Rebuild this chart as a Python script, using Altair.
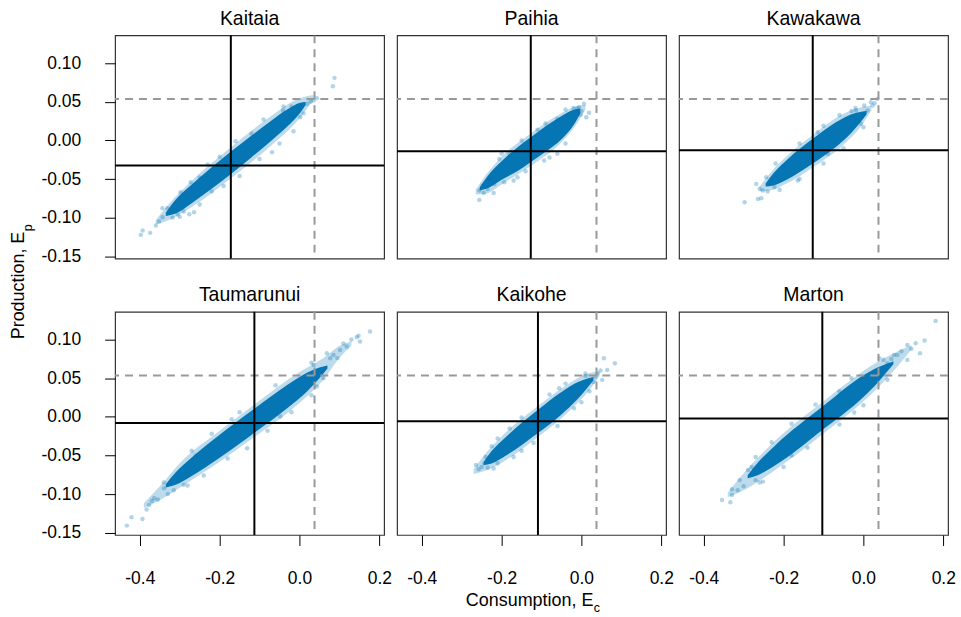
import altair as alt
import pandas as pd

# ---------------- data ----------------
PANELS = ["Kaitaia", "Paihia", "Kawakawa", "Taumarunui", "Kaikohe", "Marton"]
MEAN_X = [-0.172, -0.127, -0.127, -0.113, -0.109, -0.103]
MEAN_Y = [-0.0325, -0.014, -0.0127, -0.0079, -0.0057, -0.0023]
REF_X = 0.0377
REF_Y = 0.0535
X_TICKS = [-0.4, -0.2, 0.0, 0.2]
Y_TICKS = [-0.15, -0.10, -0.05, 0.0, 0.05, 0.10]
X_DOMAIN = [-0.462, 0.212]
Y_DOMAIN = [-0.153, 0.136]

# dense core of each point cloud: (x, y_low, y_high)
KAITAIA_CORE = [(-0.335, -0.0978, -0.0938), (-0.31, -0.0946, -0.0766), (-0.27, -0.0812, -0.0572),
                (-0.22, -0.0627, -0.0347), (-0.17, -0.0427, -0.0137), (-0.12, -0.0217, 0.0063),
                (-0.07, -0.0002, 0.0258), (-0.03, 0.0182, 0.0402), (0.0, 0.0345, 0.0485), (0.015, 0.0456, 0.0496)]
PAIHIA_CORE = [(-0.255, -0.065, -0.061), (-0.235, -0.062, -0.046), (-0.2, -0.051, -0.027),
               (-0.16, -0.0397, -0.0087), (-0.127, -0.028, 0.004), (-0.09, -0.0148, 0.0182),
               (-0.05, 0.0015, 0.0315), (-0.02, 0.0196, 0.0396), (-0.003, 0.035, 0.041)]
KAWAKAWA_CORE = [(-0.245, -0.0597, -0.0557), (-0.225, -0.0583, -0.0423), (-0.19, -0.0503, -0.0243),
                 (-0.127, -0.030, 0.002), (-0.07, -0.0089, 0.0231), (-0.03, 0.0099, 0.0339),
                 (-0.005, 0.0251, 0.0371), (0.008, 0.034, 0.038)]
TAUMARUNUI_CORE = [(-0.335, -0.0914, -0.0874), (-0.31, -0.0879, -0.0719), (-0.27, -0.0767, -0.0527),
                   (-0.2, -0.0531, -0.0231), (-0.113, -0.0205, 0.0105), (-0.03, 0.0115, 0.0415),
                   (0.02, 0.0335, 0.0575), (0.05, 0.0499, 0.0639), (0.07, 0.0625, 0.0665)]
KAIKOHE_CORE = [(-0.245, -0.0624, -0.0584), (-0.225, -0.0604, -0.0444), (-0.19, -0.0504, -0.0264),
                (-0.109, -0.021, 0.009), (-0.05, 0.0031, 0.0321), (-0.01, 0.0226, 0.0446),
                (0.015, 0.0376, 0.0496), (0.03, 0.0476, 0.0516)]
MARTON_CORE = [(-0.29, -0.0797, -0.0757), (-0.265, -0.0756, -0.0596), (-0.22, -0.0624, -0.0364),
               (-0.103, -0.017, 0.013), (0.0, 0.0257, 0.0537), (0.035, 0.0439, 0.0639),
               (0.06, 0.059, 0.069), (0.075, 0.0681, 0.0721)]

# lighter halo of scattered points around each core: (x, y_low, y_high)
KAITAIA_HALO = [(-0.36, -0.109, -0.103), (-0.33, -0.1038, -0.0838), (-0.27, -0.0862, -0.0522),
                (-0.17, -0.0482, -0.0082), (-0.07, -0.0062, 0.0318), (0.0, 0.0285, 0.0545), (0.035, 0.0528, 0.0588)]
PAIHIA_HALO = [(-0.265, -0.070, -0.064), (-0.24, -0.069, -0.045), (-0.2, -0.057, -0.021),
               (-0.127, -0.033, 0.009), (-0.05, -0.0025, 0.0355), (-0.01, 0.023, 0.045), (0.01, 0.040, 0.046)]
KAWAKAWA_HALO = [(-0.26, -0.066, -0.060), (-0.235, -0.065, -0.043), (-0.19, -0.0553, -0.0193),
                 (-0.127, -0.035, 0.007), (-0.05, -0.0055, 0.0345), (-0.005, 0.0191, 0.0431), (0.02, 0.039, 0.045)]
TAUMARUNUI_HALO = [(-0.39, -0.118, -0.112), (-0.35, -0.108, -0.090), (-0.3, -0.092, -0.060),
                   (-0.2, -0.0581, -0.0181), (-0.113, -0.026, 0.016), (0.0, 0.018, 0.058),
                   (0.06, 0.048, 0.076), (0.1, 0.076, 0.092), (0.13, 0.092, 0.098)]
KAIKOHE_HALO = [(-0.27, -0.074, -0.068), (-0.245, -0.0704, -0.0504), (-0.2, -0.0594, -0.0254),
                (-0.109, -0.026, 0.014), (-0.03, 0.0076, 0.0436), (0.02, 0.0346, 0.0566), (0.045, 0.053, 0.059)]
MARTON_HALO = [(-0.34, -0.104, -0.098), (-0.3, -0.095, -0.073), (-0.22, -0.0684, -0.0304),
               (-0.103, -0.023, 0.019), (0.035, 0.0369, 0.0709), (0.09, 0.068, 0.086), (0.12, 0.087, 0.093)]

# sparse outlying points: (x, y)
KAITAIA_PTS = [(-0.3975, -0.1223), (-0.3742, -0.1197), (-0.393, -0.1167), (-0.360, -0.1102), (-0.352, -0.1050),
               (-0.343, -0.0994), (-0.3434, -0.0878), (-0.331, -0.0878), (-0.318, -0.1000), (-0.305, -0.0960),
               (-0.290, -0.0920), (-0.276, -0.0955), (-0.264, -0.0930), (-0.298, -0.0671), (-0.2727, -0.0541),
               (-0.250, -0.0480), (-0.220, -0.0660), (-0.200, -0.0210), (-0.150, -0.0460), (-0.120, 0.0090),
               (-0.0688, -0.0153), (-0.0413, 0.0387), (-0.020, 0.0440), (0.002, 0.0452), (0.0186, 0.0474),
               (0.0353, 0.0517), (0.0436, 0.0547), (0.028, 0.0500), (0.002, 0.0300), (0.010, 0.0350),
               (0.0835, 0.0702), (0.0877, 0.0810),
               (-0.300, -0.0990), (-0.250, -0.0830), (-0.230, -0.0310), (-0.190, -0.0590), (-0.160, -0.0010),
               (-0.100, -0.0240), (-0.090, 0.0270), (-0.050, -0.0040), (-0.040, 0.0440), (-0.015, 0.0120)]
PAIHIA_PTS = [(-0.2559, -0.0770), (-0.2559, -0.0649), (-0.2476, -0.0584), (-0.2350, -0.0628), (-0.2184, -0.0563),
              (-0.2450, -0.0680), (-0.2300, -0.0500), (-0.2060, -0.0239), (-0.1935, -0.0541), (-0.1602, -0.0476),
              (-0.1800, -0.0180), (-0.1100, 0.0140), (-0.0936, -0.0260), (-0.0603, -0.0174), (-0.0603, 0.0279),
              (-0.0060, 0.0430), (-0.0104, 0.0409), (0.0063, 0.0474), (0.0188, 0.0357), (-0.0020, 0.0331),
              (-0.0200, 0.0420), (0.0000, 0.0380),
              (-0.220, -0.0680), (-0.170, -0.0520), (-0.140, -0.0400), (-0.080, -0.0220), (-0.040, -0.0040),
              (-0.200, -0.0170), (-0.150, 0.0000), (-0.090, 0.0220), (-0.040, 0.0400), (0.012, 0.0300)]
KAWAKAWA_PTS = [(-0.2977, -0.0800), (-0.2685, -0.0563), (-0.2602, -0.0627), (-0.2519, -0.0649), (-0.2560, -0.0749),
                (-0.2644, -0.0757), (-0.2436, -0.0476), (-0.2228, -0.0606), (-0.2400, -0.0660), (-0.1645, -0.0520),
                (-0.2000, -0.0330), (-0.1146, 0.0107), (0.0352, 0.0538), (0.0228, 0.0452), (0.0103, 0.0387),
                (0.0186, 0.0495), (0.0020, 0.0452), (-0.0189, 0.0387), (-0.0064, 0.0215), (-0.0300, 0.0380),
                (-0.0890, -0.0174), (0.0280, 0.0480),
                (-0.210, -0.0640), (-0.160, -0.0500), (-0.100, -0.0300), (-0.050, -0.0100), (0.000, 0.0170),
                (-0.220, -0.0300), (-0.160, -0.0040), (-0.100, 0.0190), (-0.060, 0.0330), (-0.020, 0.0420)]
TAUMARUNUI_PTS = [(-0.4325, -0.1409), (-0.4208, -0.1301), (-0.3934, -0.1323), (-0.3830, -0.1200), (-0.3767, -0.1141),
                  (-0.3700, -0.1090), (-0.3642, -0.1055), (-0.3550, -0.1070), (-0.3393, -0.0926), (-0.3300, -0.1000),
                  (-0.3150, -0.0950), (-0.3400, -0.0850), (-0.2900, -0.0880), (-0.2600, -0.0500), (-0.1312, -0.0407),
                  (-0.0480, 0.0003), (-0.1700, -0.0030), (0.0353, 0.0672), (0.0436, 0.0392), (0.0686, 0.0824),
                  (0.0769, 0.0759), (0.0852, 0.0802), (0.1018, 0.0866), (0.1185, 0.0910), (0.1100, 0.0950),
                  (0.1300, 0.1000), (0.1435, 0.1031), (0.1518, 0.0974), (0.1480, 0.1050), (0.1768, 0.1104),
                  (0.0600, 0.0500), (0.0950, 0.0760),
                  (-0.280, -0.0890), (-0.240, -0.0760), (-0.180, -0.0540), (-0.080, -0.0180), (-0.020, 0.0060),
                  (0.030, 0.0280), (-0.270, -0.0440), (-0.220, -0.0220), (-0.150, 0.0060), (-0.060, 0.0410),
                  (0.030, 0.0700)]
KAIKOHE_PTS = [(-0.2642, -0.0623), (-0.2576, -0.0679), (-0.2434, -0.0602), (-0.2500, -0.0650), (-0.2350, -0.0660),
               (-0.2400, -0.0520), (-0.2250, -0.0380), (-0.2100, -0.0600), (-0.1500, -0.0440), (-0.1800, -0.0150),
               (-0.0560, 0.0370), (-0.0270, 0.0370), (-0.0187, 0.0111), (0.0300, 0.0450), (0.0350, 0.0520),
               (0.0400, 0.0560), (0.0479, 0.0599), (0.0520, 0.0478), (0.0645, 0.0607), (0.0562, 0.0759),
               (0.0837, 0.0694), (0.0200, 0.0330), (0.0100, 0.0530),
               (-0.220, -0.0670), (-0.170, -0.0520), (-0.120, -0.0340), (-0.060, -0.0120), (0.000, 0.0190),
               (-0.210, -0.0280), (-0.150, -0.0010), (-0.080, 0.0290), (-0.040, 0.0430), (0.010, 0.0560)]
MARTON_PTS = [(-0.3543, -0.1077), (-0.3335, -0.1107), (-0.3293, -0.1012), (-0.3293, -0.0938), (-0.3101, -0.0817),
              (-0.2893, -0.0688), (-0.2519, -0.0839), (-0.3150, -0.0950), (-0.3000, -0.0900), (-0.2700, -0.0820),
              (-0.2800, -0.0650), (-0.2300, -0.0330), (-0.1800, -0.0500), (-0.0230, 0.0055), (-0.0600, 0.0330),
              (0.0602, 0.0694), (0.0700, 0.0750), (0.0768, 0.0802), (0.0850, 0.0800), (0.0950, 0.0850),
              (0.1101, 0.0737), (0.1101, 0.0931), (0.1200, 0.0880), (0.1309, 0.0953), (0.1418, 0.0823),
              (0.1534, 0.0987), (0.1809, 0.1242), (0.0500, 0.0740),
              (-0.260, -0.0850), (-0.200, -0.0650), (-0.140, -0.0400), (-0.060, -0.0100), (0.000, 0.0150),
              (0.060, 0.0480), (-0.270, -0.0520), (-0.180, -0.0090), (-0.120, 0.0160), (-0.030, 0.0500),
              (0.040, 0.0760)]

CORES = [KAITAIA_CORE, PAIHIA_CORE, KAWAKAWA_CORE, TAUMARUNUI_CORE, KAIKOHE_CORE, MARTON_CORE]
HALOS = [KAITAIA_HALO, PAIHIA_HALO, KAWAKAWA_HALO, TAUMARUNUI_HALO, KAIKOHE_HALO, MARTON_HALO]
POINTS = [KAITAIA_PTS, PAIHIA_PTS, KAWAKAWA_PTS, TAUMARUNUI_PTS, KAIKOHE_PTS, MARTON_PTS]

Y_TITLE = "Production, E"
Y_SUB = "p"
X_TITLE = "Consumption, E"
X_SUB = "c"

# ---------------- styling ----------------
BLUE = "#0072B2"
FONT = "Liberation Sans"
W, H = 270, 224
TICK_FS = 17.5
TITLE_FS = 19.5
LAB_FS = 18


def label(text, x, y, size, angle=None, align="center"):
    kw = dict(align=align, baseline="alphabetic", fontSize=size, font=FONT, color="black")
    if angle is not None:
        kw["angle"] = angle
    return alt.Chart(pd.DataFrame({"t": [text]})).mark_text(**kw).encode(
        text="t:N", x=alt.value(x), y=alt.value(y))


def panel(i):
    row, col = divmod(i, 3)
    xs = alt.Scale(domain=X_DOMAIN, nice=False, zero=False)
    ys = alt.Scale(domain=Y_DOMAIN, nice=False, zero=False)
    if row == 1:
        xaxis = alt.Axis(values=X_TICKS, title=None, grid=False, domain=False,
                         tickSize=10.5, tickColor="black", tickWidth=1,
                         labelPadding=24, labelFontSize=TICK_FS, labelFont=FONT, labelColor="black",
                         labelExpr="(datum.value < 0 ? '-' : '') + format(abs(datum.value), '.1f')")
    else:
        xaxis = None
    if col == 0:
        yaxis = alt.Axis(values=Y_TICKS, title=None, grid=False, domain=False,
                         tickSize=10.5, tickColor="black", tickWidth=1,
                         labelPadding=24, labelFontSize=TICK_FS, labelFont=FONT, labelColor="black",
                         labelExpr="(datum.value < 0 ? '-' : '') + format(abs(datum.value), '.2f')")
    else:
        yaxis = None

    X = lambda f: alt.X(f, type="quantitative", scale=xs, axis=xaxis)
    Y = lambda f: alt.Y(f, type="quantitative", scale=ys, axis=yaxis)

    halo_df = pd.DataFrame(HALOS[i], columns=["x", "lo", "hi"])
    core_df = pd.DataFrame(CORES[i], columns=["x", "lo", "hi"])
    pts_df = pd.DataFrame(POINTS[i], columns=["x", "y"])

    halo = alt.Chart(halo_df).mark_area(color=BLUE, opacity=0.26, interpolate="monotone").encode(
        x=X("x"), y=Y("lo"), y2="hi")
    core = alt.Chart(core_df).mark_area(color=BLUE, opacity=0.97, interpolate="monotone").encode(
        x=X("x"), y=Y("lo"), y2="hi")
    pts = alt.Chart(pts_df).mark_circle(color=BLUE, opacity=0.3, size=20).encode(x=X("x"), y=Y("y"))

    vmean = alt.Chart(pd.DataFrame({"x": [MEAN_X[i]]})).mark_rule(color="black", strokeWidth=2).encode(x=X("x"))
    hmean = alt.Chart(pd.DataFrame({"y": [MEAN_Y[i]]})).mark_rule(color="black", strokeWidth=2).encode(y=Y("y"))
    vref = alt.Chart(pd.DataFrame({"x": [REF_X]})).mark_rule(color="#999999", strokeWidth=2,
                                                            strokeDash=[8, 6]).encode(x=X("x"))
    href = alt.Chart(pd.DataFrame({"y": [REF_Y]})).mark_rule(color="#999999", strokeWidth=2,
                                                            strokeDash=[8, 6]).encode(y=Y("y"))

    layers = [halo, core, pts, vref, href, vmean, hmean,
              label(PANELS[i], W / 2, -10.7, TITLE_FS)]

    if i == 0:
        layers += [label(Y_TITLE, -91.3, 197, LAB_FS, angle=270, align="right"),
                   label(Y_SUB, -83.5, 196.5, 12.5, angle=270, align="left")]
    if i == 4:
        layers += [label(X_TITLE, 197, 295, LAB_FS, align="right"),
                   label(X_SUB, 197.5, 301, 12.5, align="left")]

    return alt.layer(*layers).properties(width=W, height=H)


chart = alt.concat(*[panel(i) for i in range(6)], columns=3,
                   spacing={"row": 53.4, "column": 13}, bounds="flush").properties(
    padding={"left": 9.5, "top": 6.4, "right": 5, "bottom": 0}
).configure(background="white").configure_view(stroke="#333333", strokeWidth=1.2)

chart.save("out.html", embed_options={"renderer": "svg", "actions": False})
